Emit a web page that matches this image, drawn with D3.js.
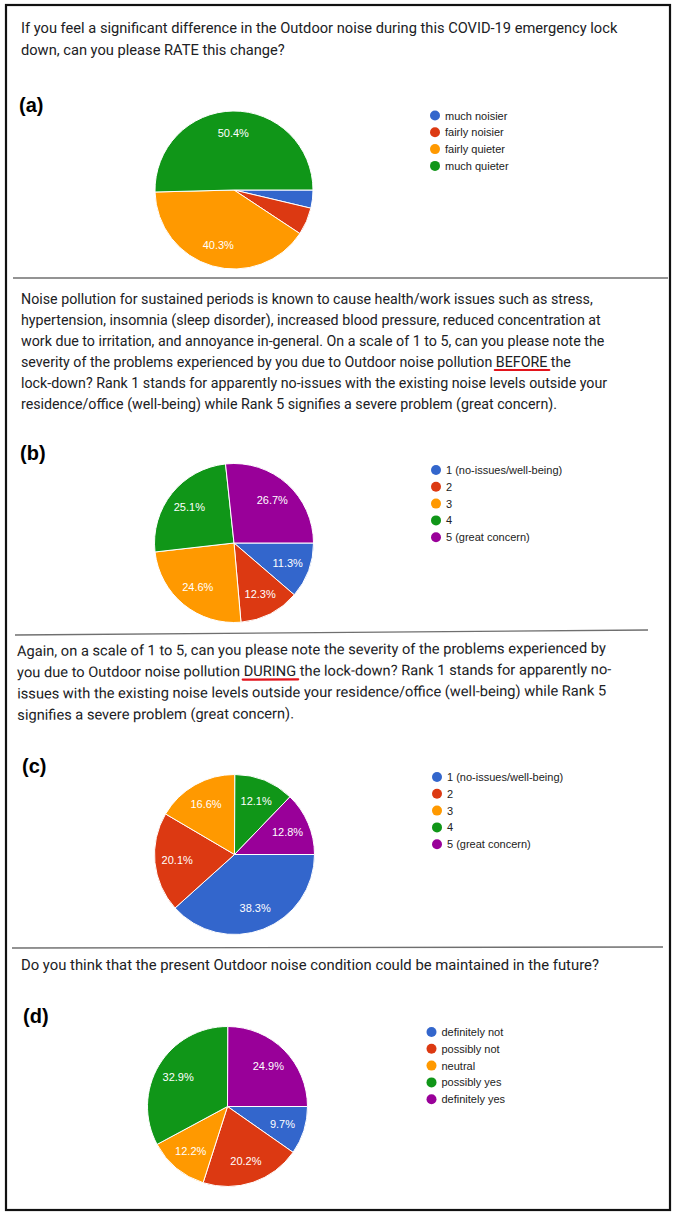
<!DOCTYPE html>
<html>
<head>
<meta charset="utf-8">
<script src="https://cdn.jsdelivr.net/npm/d3@7"></script>
<style>
  html, body { margin: 0; padding: 0; background: #fff; }
  svg { display: block; }
</style>
</head>
<body>
<svg id="chart" width="676" height="1214"></svg>
<script>
// ---------------- DATA ----------------
const colors = ["#3366cc", "#dc3912", "#ff9900", "#109618", "#990099"];

const questionA = [
  "If you feel a significant difference in the Outdoor noise during this COVID-19 emergency lock",
  "down, can you please RATE this change?"
];
const categoriesA = ["much noisier", "fairly noisier", "fairly quieter", "much quieter"];
const valuesA = [3.7, 5.6, 40.3, 50.4];

const questionB = [
  "Noise pollution for sustained periods is known to cause health/work issues such as stress,",
  "hypertension, insomnia (sleep disorder), increased blood pressure, reduced concentration at",
  "work due to irritation, and annoyance in-general. On a scale of 1 to 5, can you please note the",
  "severity of the problems experienced by you due to Outdoor noise pollution BEFORE the",
  "lock-down? Rank 1 stands for apparently no-issues with the existing noise levels outside your",
  "residence/office (well-being) while Rank 5 signifies a severe problem (great concern)."
];
const categoriesB = ["1 (no-issues/well-being)", "2", "3", "4", "5 (great concern)"];
const valuesB = [11.3, 12.3, 24.6, 25.1, 26.7];

const questionC = [
  "Again, on a scale of 1 to 5, can you please note the severity of the problems experienced by",
  "you due to Outdoor noise pollution DURING the lock-down? Rank 1 stands for apparently no-",
  "issues with the existing noise levels outside your residence/office (well-being) while Rank 5",
  "signifies a severe problem (great concern)."
];
const categoriesC = ["1 (no-issues/well-being)", "2", "3", "4", "5 (great concern)"];
const valuesC = [38.3, 20.1, 16.6, 12.1, 12.8];

const questionD = [
  "Do you think that the present Outdoor noise condition could be maintained in the future?"
];
const categoriesD = ["definitely not", "possibly not", "neutral", "possibly yes", "definitely yes"];
const valuesD = [9.7, 20.2, 12.2, 32.9, 24.9];

const panelLabels = ["(a)", "(b)", "(c)", "(d)"];

// ---------------- DRAW ----------------
const svg = d3.select("#chart");
svg.append("rect").attr("width", 676).attr("height", 1214).attr("fill", "#fff");

// outer frame
svg.append("rect")
  .attr("x", 6).attr("y", 5).attr("width", 664).attr("height", 1205)
  .attr("fill", "none").attr("stroke", "#111").attr("stroke-width", 2.2);

// separators
const seps = [
  {x1: 13, y1: 278, x2: 668, y2: 278},
  {x1: 15, y1: 635, x2: 648, y2: 630},
  {x1: 12, y1: 948, x2: 663, y2: 947}
];
svg.selectAll("line.sep").data(seps).join("line").attr("class", "sep")
  .attr("x1", d => d.x1).attr("y1", d => d.y1).attr("x2", d => d.x2).attr("y2", d => d.y2)
  .attr("stroke", "#6f6f6f").attr("stroke-width", 1.4);

function drawQuestion(lines, x, y0, lh, targetW, rot, underline) {
  const g = svg.append("g");
  if (rot) g.attr("transform", `rotate(${rot},${x},${y0})`);
  const texts = g.selectAll("text").data(lines).join("text")
    .attr("x", x).attr("y", (d, i) => y0 + i * lh)
    .attr("font-family", "Roboto, 'Noto Sans', sans-serif")
    .attr("font-size", 14).attr("fill", "#202124")
    .text(d => d);
  const w = texts.node().getComputedTextLength();
  const fs = 14 * targetW / w;
  texts.attr("font-size", fs.toFixed(2));
  if (underline) {
    const node = texts.nodes()[underline.line];
    const str = lines[underline.line];
    const idx = str.indexOf(underline.word);
    const xs = node.getStartPositionOfChar(idx).x;
    const xe = node.getEndPositionOfChar(idx + underline.word.length - 1).x;
    const yy = y0 + underline.line * lh + 3.5;
    g.append("line").attr("x1", xs - 1).attr("x2", xe + 2).attr("y1", yy).attr("y2", yy)
      .attr("stroke", "#e3141c").attr("stroke-width", 2.2).attr("stroke-linecap", "round");
  }
}

drawQuestion(questionA, 21, 33, 21.5, 597, 0, null);
drawQuestion(questionB, 21, 303.5, 21, 572, 0, {line: 3, word: "BEFORE"});
drawQuestion(questionC, 17, 656, 21.3, 589, -0.3, {line: 1, word: "DURING"});
drawQuestion(questionD, 21, 970, 21, 578, 0, null);

const panels = [
  {cats: categoriesA, vals: valuesA, cx: 234, cy: 190, r: 79, lx: 435, ly: 115.5, lab: panelLabels[0], px: 19, py: 112},
  {cats: categoriesB, vals: valuesB, cx: 234, cy: 543, r: 79.5, lx: 436, ly: 470, lab: panelLabels[1], px: 20, py: 460},
  {cats: categoriesC, vals: valuesC, cx: 234.5, cy: 854.5, r: 80, lx: 437, ly: 777, lab: panelLabels[2], px: 22, py: 773},
  {cats: categoriesD, vals: valuesD, cx: 227.5, cy: 1106.5, r: 80, lx: 431.5, ly: 1032, lab: panelLabels[3], px: 23, py: 1023}
];

const pie = d3.pie().sort(null).value(d => d)
  .startAngle(Math.PI / 2).endAngle(Math.PI / 2 + 2 * Math.PI);
const color = d3.scaleOrdinal().domain(d3.range(5)).range(colors);

panels.forEach(p => {
  // panel label
  svg.append("text").attr("x", p.px).attr("y", p.py)
    .attr("font-family", "'Liberation Sans', Arial, sans-serif")
    .attr("font-weight", "bold").attr("font-size", 20).attr("fill", "#000")
    .text(p.lab);

  const g = svg.append("g").attr("transform", `translate(${p.cx},${p.cy})`);
  const arc = d3.arc().innerRadius(0).outerRadius(p.r);
  const labelArc = d3.arc().innerRadius(p.r * 0.72).outerRadius(p.r * 0.72);
  const arcs = pie(p.vals);
  g.selectAll("path").data(arcs).join("path")
    .attr("d", arc)
    .attr("fill", (d, i) => color(i))
    .attr("stroke", "#fff").attr("stroke-width", 1);
  g.selectAll("text").data(arcs.filter(d => d.data >= 7)).join("text")
    .attr("transform", d => `translate(${labelArc.centroid(d)})`)
    .attr("text-anchor", "middle").attr("dominant-baseline", "central")
    .attr("font-family", "'Liberation Sans', Arial, sans-serif")
    .attr("font-size", 11).attr("fill", "#fff")
    .text(d => d.data.toFixed(1) + "%");

  // legend
  const y = d3.scalePoint().domain(p.cats).range([p.ly, p.ly + 16.8 * (p.cats.length - 1)]);
  const lg = svg.append("g");
  const rows = lg.selectAll("g").data(p.cats).join("g")
    .attr("transform", d => `translate(${p.lx},${y(d)})`);
  rows.append("circle").attr("r", 5).attr("fill", (d, i) => color(i));
  rows.append("text").attr("x", 10).attr("dominant-baseline", "central")
    .attr("font-family", "'Liberation Sans', Arial, sans-serif")
    .attr("font-size", 11).attr("fill", "#222")
    .text(d => d);
});
</script>
</body>
</html>
